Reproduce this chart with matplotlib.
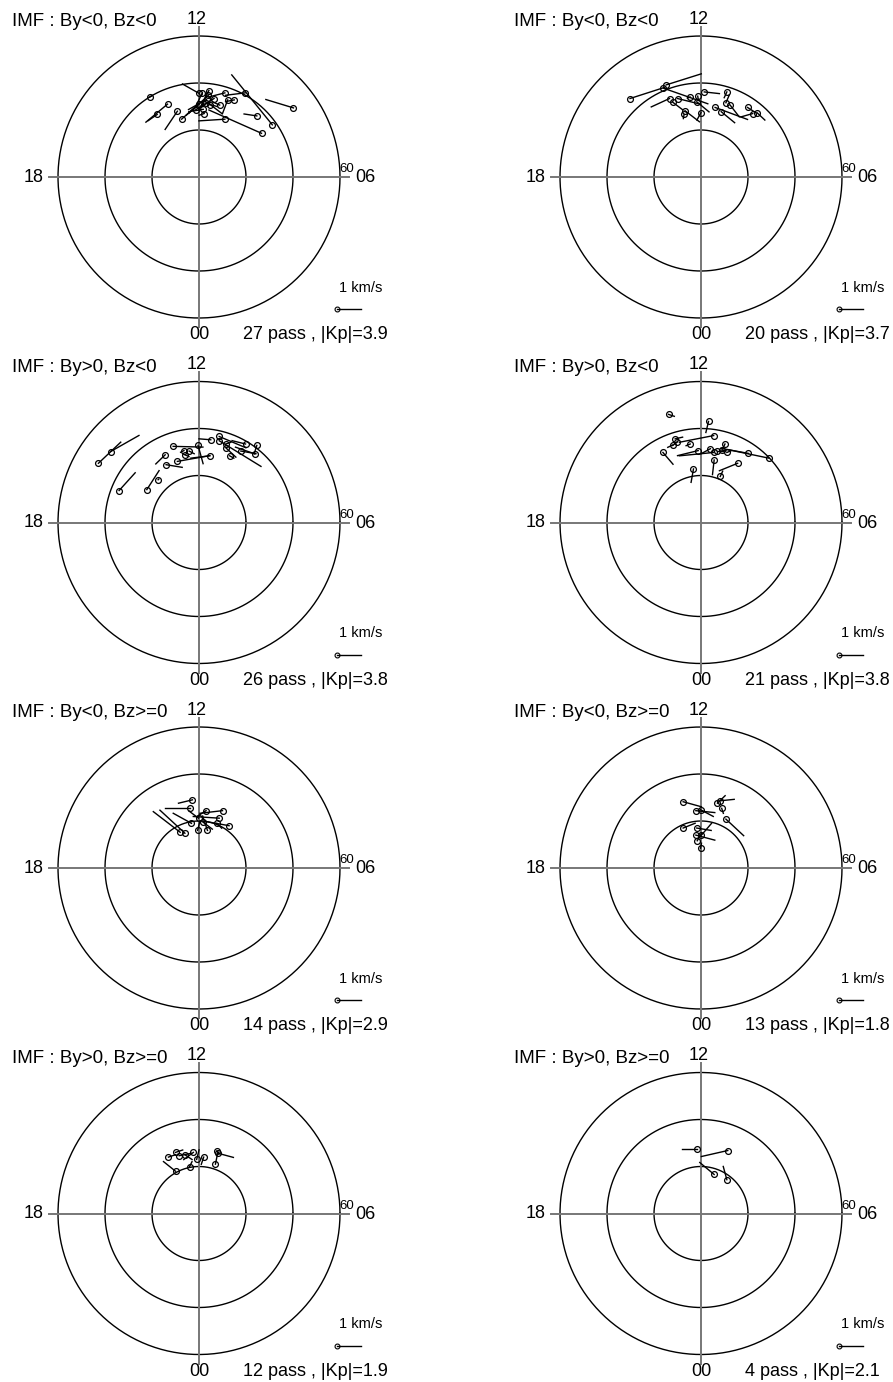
import numpy as np
import matplotlib
matplotlib.use("Agg")
import matplotlib.pyplot as plt

# ---------------- data ----------------
titles = ["IMF : By<0, Bz<0", "IMF : By<0, Bz<0",
          "IMF : By>0, Bz<0", "IMF : By>0, Bz<0",
          "IMF : By<0, Bz>=0", "IMF : By<0, Bz>=0",
          "IMF : By>0, Bz>=0", "IMF : By>0, Bz>=0"]
n_pass = [27, 20, 26, 21, 14, 13, 12, 4]
kp_mean = [3.9, 3.7, 3.8, 3.8, 2.9, 1.8, 1.9, 2.1]
circle_lats = [80, 70, 60]
mlt_labels = ["12", "18", "06", "00"]

# positions: dawnward / noonward distance from pole (deg colatitude)
# vectors: dawnward / noonward velocity components (km/s)
p1_x = [-10.5, -6.7, -8.9, -4.6, -3.7, 0.0, 0.7, 2.1, 2.0, 1.6, 0.0, 0.9, 1.1, 2.4,
        4.4, 6.1, 7.5, 5.5, 9.8, 12.3, 5.5, 13.3, 15.6, 20.1, -0.7, 3.2, 1.4]
p1_y = [17.0, 15.5, 13.3, 14.0, 12.3, 17.8, 17.9, 18.4, 17.4, 16.5, 15.5, 14.4, 13.5, 15.4,
        15.3, 16.4, 16.4, 17.9, 17.9, 13.0, 12.3, 9.3, 11.1, 14.7, 14.3, 16.7, 15.7]
p1_vx = [0.11, -0.90, -0.38, -0.51, 0.72, -0.69, -0.28, -0.42, -0.81, -0.75, -0.53, -0.60, -0.21, 0.47,
         -0.31, -0.22, -0.36, -0.67, -0.81, -0.53, -1.08, -2.19, -1.69, -1.15, 0.56, -0.49, 0.49]
p1_vy = [0.06, -0.75, -0.26, -0.76, 0.65, 0.39, -0.58, -0.81, -0.75, -0.42, -0.46, -0.10, -0.07, -0.36,
         0.14, -0.58, -0.07, -0.17, -0.10, 0.08, -0.07, 0.97, 2.08, 0.35, 0.35, -0.32, -0.14]

p2_x = [-15.1, -7.4, -8.0, -6.7, -6.0, -5.0, -2.3, -0.7, -0.9, 0.7, 0.0, -3.4, -3.6, 5.5,
        5.3, 3.0, 4.3, 6.2, 9.9, 11.9, 11.0]
p2_y = [16.7, 19.6, 18.9, 16.7, 15.9, 16.7, 17.0, 17.2, 16.0, 18.1, 13.7, 14.1, 13.3, 18.1,
        15.8, 14.8, 13.9, 15.3, 14.8, 13.7, 13.5]
p2_vx = [1.43, 1.46, 1.85, -0.76, 0.42, 0.97, -0.12, 0.03, 0.51, 0.63, -0.17, 0.60, -0.03, -0.11,
         0.14, 1.35, 0.56, 0.38, 0.28, 0.33, -0.49]
p2_vy = [0.46, 0.46, -0.65, -0.35, -0.32, -0.24, -0.04, -0.17, -0.42, -0.07, -0.31, -0.46, -0.17, -0.24,
         0.32, -0.50, -0.46, -0.49, -0.18, -0.31, -0.14]

p3_x = [-21.4, -18.8, -17.0, -11.1, -8.7, -5.5, -7.2, -7.0, -4.6, -3.2, -2.1, -3.0, -0.2, 2.3,
        2.5, 4.3, 4.3, 5.7, 6.5, 8.9, 9.9, 12.3, 11.9, 5.7]
p3_y = [12.6, 15.1, 6.8, 7.0, 9.1, 16.2, 14.4, 12.3, 13.0, 15.3, 15.2, 14.4, 16.4, 14.2,
        17.6, 18.3, 17.4, 15.9, 14.2, 15.2, 16.7, 16.4, 14.6, 16.7]
p3_vx = [0.93, 1.18, 0.67, 0.51, 0.03, 1.24, -0.39, 0.67, 1.35, -0.14, 0.21, 0.17, 0.21, -0.79,
         -0.49, 1.11, 1.74, 0.42, 0.18, 0.63, -0.56, -0.11, -0.81, 0.21]
p3_vy = [0.88, 0.67, 0.74, 0.79, 0.03, -0.03, -0.38, -0.11, 0.24, -0.07, -0.11, -0.07, -0.76, -0.10,
         0.04, -0.47, -1.07, -0.39, -0.10, -0.11, 0.14, -0.35, 0.28, 0.07]

p4_x = [-6.9, 1.6, 2.7, -5.5, -5.1, -6.0, -2.3, -8.1, -0.6, 2.0, 2.7, 3.4, 4.4, 5.1,
        5.5, 10.1, 14.4, 2.8, 7.8, -1.6, 4.1]
p4_y = [23.0, 21.5, 18.5, 17.8, 17.1, 16.5, 16.7, 14.9, 15.3, 15.7, 14.9, 15.3, 15.4, 16.7,
        14.9, 14.7, 13.7, 13.3, 12.6, 11.4, 9.8]
p4_vx = [0.24, -0.11, -1.43, 0.31, -0.18, -0.21, -0.17, 0.42, -0.86, -0.39, -1.43, 0.24, 0.18, -0.10,
         0.17, -1.14, -1.68, -0.07, -0.76, -0.10, 0.10]
p4_vy = [-0.08, -0.46, -0.28, 0.07, -0.14, -0.10, -0.07, -0.49, -0.21, -0.21, -0.14, 0.00, -0.03, -0.21,
         0.07, 0.21, 0.35, -0.61, -0.31, -0.56, 0.22]

p5_x = [-1.4, -1.9, 1.5, 5.0, 4.3, 6.4, -1.6, -0.1, -4.0, -3.0, 0.8, 1.8, 3.8, -0.3]
p5_y = [14.5, 12.8, 12.2, 12.2, 10.6, 9.0, 9.5, 10.6, 7.6, 7.4, 9.8, 8.0, 9.5, 8.0]
p5_vx = [-0.58, -1.04, -0.39, -0.94, -1.08, -0.94, -0.76, -0.40, -1.12, -1.04, 0.40, -0.20, 0.20, 0.10]
p5_vy = [-0.14, 0.00, -0.25, -0.11, 0.07, 0.17, 0.42, 0.30, 0.86, 0.96, -0.30, 0.60, -0.20, 0.40]

p6_x = [-3.8, -1.1, -0.1, 3.5, 4.1, 4.4, 5.3, -3.8, -0.9, -1.1, -0.8, -0.1, 0.1]
p6_y = [14.1, 12.2, 12.4, 13.8, 14.3, 12.7, 10.4, 8.5, 8.5, 7.0, 5.8, 4.2, 7.0]
p6_vx = [0.76, 0.79, 0.53, 0.32, 0.58, 0.07, 0.74, 0.50, 0.60, 0.79, 0.18, 0.04, 0.42]
p6_vy = [-0.21, -0.08, -0.28, 0.31, 0.06, -0.21, -0.69, 0.20, -0.10, -0.21, 0.31, 0.21, 0.49]

p7_x = [-6.5, -4.2, -1.2, 4.1, -5.0, -3.0, -0.5, 3.8, 1.0, -5.0, -2.0, 3.5]
p7_y = [12.0, 12.3, 13.0, 12.8, 13.0, 12.5, 11.5, 13.3, 12.0, 9.0, 10.0, 10.5]
p7_vx = [0.30, 0.50, -0.40, 0.63, 0.30, 0.30, 0.10, 0.10, -0.10, -0.50, 0.10, 0.10]
p7_vy = [0.10, 0.10, -0.30, -0.17, 0.10, -0.20, 0.40, -0.10, -0.30, 0.40, 0.20, 0.50]

p8_x = [-0.9, 5.7, 2.8, 5.5]
p8_y = [13.8, 13.4, 8.3, 7.2]
p8_vx = [-0.60, -1.10, -0.60, -0.15]
p8_vy = [0.00, -0.25, 0.50, 0.55]

panels = [(p1_x, p1_y, p1_vx, p1_vy), (p2_x, p2_y, p2_vx, p2_vy),
          (p3_x, p3_y, p3_vx, p3_vy), (p4_x, p4_y, p4_vx, p4_vy),
          (p5_x, p5_y, p5_vx, p5_vy), (p6_x, p6_y, p6_vx, p6_vy),
          (p7_x, p7_y, p7_vx, p7_vy), (p8_x, p8_y, p8_vx, p8_vy)]

# ---------------- layout ----------------
W, H = 893, 1382
PXD = 4.7                 # pixels per degree of colatitude
KMS = 24 / PXD            # degrees per 1 km/s of arrow length
col_cx = [199, 701]
row_cy = [177, 522.5, 868, 1213.5]
HALF = 175                # half size of each axes in pixels

plt.rcParams['font.family'] = ['Liberation Sans', 'DejaVu Sans']
fig = plt.figure(figsize=(W / 100, H / 100), dpi=100)

for i, (xs, ys, vxs, vys) in enumerate(panels):
    cx = col_cx[i % 2]
    cy = row_cy[i // 2]
    ax = fig.add_axes([(cx - HALF) / W, 1 - (cy + HALF) / H, 2 * HALF / W, 2 * HALF / H])
    lim = HALF / PXD
    ax.set_xlim(-lim, lim)
    ax.set_ylim(-lim, lim)
    ax.axis('off')

    th = np.linspace(0, 2 * np.pi, 400)
    for lat in circle_lats:
        r = 90 - lat
        ax.plot(r * np.cos(th), r * np.sin(th), color='black', lw=1.0)
    ext = 32
    ax.plot([-ext, ext], [0, 0], color='#777777', lw=1.4)
    ax.plot([0, 0], [-ext, ext], color='#777777', lw=1.4)

    fs = 13
    ax.text(-0.4, 33.6, mlt_labels[0], ha='center', va='center', fontsize=fs, clip_on=False)
    ax.text(-35.2, 0, mlt_labels[1], ha='center', va='center', fontsize=fs, clip_on=False)
    ax.text(35.4, -0.2, mlt_labels[2], ha='center', va='center', fontsize=fs, clip_on=False)
    ax.text(0, -33.6, mlt_labels[3], ha='center', va='center', fontsize=fs, clip_on=False)
    ax.text(31.4, 1.7, str(circle_lats[-1]), ha='center', va='center', fontsize=9.5, clip_on=False)
    ax.text(-39.8, 33.0, titles[i], ha='left', va='center', fontsize=13.5, clip_on=False)
    ax.text(9.4, -33.6, f"{n_pass[i]} pass , |Kp|={kp_mean[i]}", ha='left', va='center',
            fontsize=fs, clip_on=False)
    ax.text(34.3, -23.6, "1 km/s", ha='center', va='center', fontsize=10.5, clip_on=False)
    lx, ly = 29.4, -28.1
    ax.plot([lx, lx + 1.0 * KMS], [ly, ly], color='black', lw=1.0, clip_on=False)
    ax.plot([lx], [ly], marker='o', ms=3.5, mfc='none', mec='black', mew=0.8, clip_on=False)

    xs = np.asarray(xs); ys = np.asarray(ys)
    vxs = np.asarray(vxs); vys = np.asarray(vys)
    for x0, y0, vx, vy in zip(xs, ys, vxs, vys):
        ax.plot([x0, x0 + vx * KMS], [y0, y0 + vy * KMS], color='black', lw=1.0)
    ax.plot(xs, ys, linestyle='none', marker='o', ms=4.2, mfc='none', mec='black', mew=0.9)

fig.savefig("out.png", dpi=100)
